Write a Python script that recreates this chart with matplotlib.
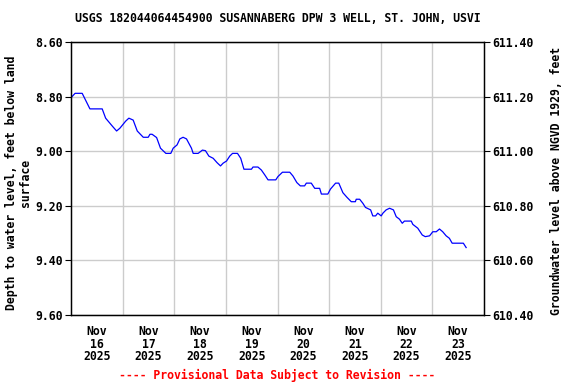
import matplotlib
matplotlib.use("Agg")
import matplotlib.pyplot as plt
import numpy as np
import pandas as pd

title = "USGS 182044064454900 SUSANNABERG DPW 3 WELL, ST. JOHN, USVI"
left_label = "Depth to water level, feet below land\nsurface"
right_label = "Groundwater level above NGVD 1929, feet"
footer = "---- Provisional Data Subject to Revision ----"
datum_offset = 620.0

hours = [0, 1.9, 5.2, 8.8, 14.5, 16.1, 19.2, 21.2, 22.7, 25.4, 26.9, 28.9, 30.8, 33.6,
         35.9, 36.7, 37.7, 39.8, 41.6, 44.1, 46.4, 47.5, 49.3, 50.6, 52.1, 53.7, 56.0,
         56.8, 59.1, 61.1, 62.5, 64.1, 66.1, 67.9, 69.5, 70.7, 72.3, 73.8, 75.1, 77.4,
         78.9, 80.4, 83.9, 84.6, 86.9, 88.5, 90.1, 91.6, 95.2, 96.2, 98.3, 101.7, 103.2,
         105.0, 106.6, 108.6, 109.4, 111.7, 113.3, 115.6, 116.4, 119.4, 120.6, 123.0,
         124.5, 126.4, 128.3, 130.3, 132.2, 132.6, 134.2, 135.7, 136.9, 139.3, 140.3,
         141.6, 142.6, 144.2, 145.0, 146.5, 148.1, 149.9, 151.2, 152.7, 154.0, 155.0,
         158.2, 158.9, 161.2, 163.3, 164.7, 166.7, 168.2, 169.8, 171.3, 172.8, 174.4,
         175.9, 177.2, 182.4, 183.7]
depth = [8.804, 8.788, 8.788, 8.845, 8.845, 8.879, 8.908, 8.926, 8.916, 8.890, 8.879,
         8.886, 8.926, 8.949, 8.949, 8.938, 8.938, 8.950, 8.989, 9.008, 9.008, 8.989,
         8.977, 8.955, 8.949, 8.955, 8.989, 9.008, 9.008, 8.996, 8.998, 9.018, 9.026,
         9.042, 9.054, 9.044, 9.036, 9.018, 9.008, 9.008, 9.026, 9.066, 9.066, 9.058,
         9.058, 9.069, 9.087, 9.105, 9.105, 9.093, 9.077, 9.077, 9.091, 9.115, 9.127,
         9.127, 9.117, 9.117, 9.136, 9.136, 9.157, 9.157, 9.139, 9.117, 9.117, 9.152,
         9.169, 9.185, 9.185, 9.176, 9.176, 9.191, 9.206, 9.215, 9.237, 9.237, 9.227,
         9.237, 9.227, 9.215, 9.209, 9.215, 9.240, 9.249, 9.264, 9.256, 9.256, 9.268,
         9.282, 9.307, 9.313, 9.310, 9.295, 9.295, 9.285, 9.295, 9.310, 9.319, 9.337,
         9.337, 9.353]

day_labels = ["Nov\n16\n2025", "Nov\n17\n2025", "Nov\n18\n2025", "Nov\n19\n2025",
              "Nov\n20\n2025", "Nov\n21\n2025", "Nov\n22\n2025", "Nov\n23\n2025"]
depth_ticks = [8.60, 8.80, 9.00, 9.20, 9.40, 9.60]

start = pd.Timestamp("2025-11-16 00:00")
times = start + pd.to_timedelta(hours, unit="h")

plt.rcParams['font.family'] = ['DejaVu Sans Mono']
plt.rcParams['font.weight'] = 'bold'
fs = 8.3

fig = plt.figure(figsize=(5.76, 3.84), dpi=100)
ax = fig.add_axes([71/576, 1-315/384, (484-71)/576, (315-42)/384])
ax.plot(times, depth, color="#0000ff", lw=0.9)

ax.set_ylim(9.60, 8.60)
ax.set_yticks(depth_ticks)
ax.set_yticklabels([f"{v:.2f}" for v in depth_ticks], fontsize=fs, fontweight='bold')
ax.set_xlim(start, start + pd.Timedelta(days=8))

midnights = [start + pd.Timedelta(days=i) for i in range(1, 8)]
noons = [start + pd.Timedelta(days=i, hours=12) for i in range(8)]
ax.set_xticks(midnights)
ax.set_xticklabels([])
ax.set_xticks(noons, minor=True)
ax.set_xticklabels(day_labels, minor=True, fontsize=fs, fontweight='bold', linespacing=0.98)
ax.tick_params(axis='x', which='major', length=0)
ax.tick_params(axis='x', which='minor', length=0, pad=7)
ax.tick_params(axis='y', length=4, direction='out', pad=2)
ax.grid(True, which='major', color='#cccccc', lw=1)
for s in ax.spines.values():
    s.set_color('black')
    s.set_linewidth(1)

ax2 = ax.twinx()
ax2.set_ylim(datum_offset - 9.60, datum_offset - 8.60)
elev_ticks = [datum_offset - v for v in depth_ticks]
ax2.set_yticks(elev_ticks)
ax2.set_yticklabels([f"{v:.2f}" for v in elev_ticks], fontsize=fs, fontweight='bold')
ax2.tick_params(axis='y', length=4, direction='out', pad=2)

fig.text(18.5/576, 1 - 183/384, left_label, rotation=90, ha='center', va='center',
         multialignment='center', fontsize=fs, fontweight='bold', linespacing=1.0)
fig.text(557/576, 1 - 181/384, right_label, rotation=90, ha='center', va='center',
         fontsize=fs, fontweight='bold')

fig.text((71 + 484) / 2 / 576, 1 - 19/384, title, ha='center', va='center',
         fontsize=fs, fontweight='bold')
fig.text((71 + 484) / 2 / 576, 1 - 375/384, footer, ha='center', va='center',
         fontsize=fs, fontweight='bold', color='red')

fig.savefig("out.png", dpi=100)
